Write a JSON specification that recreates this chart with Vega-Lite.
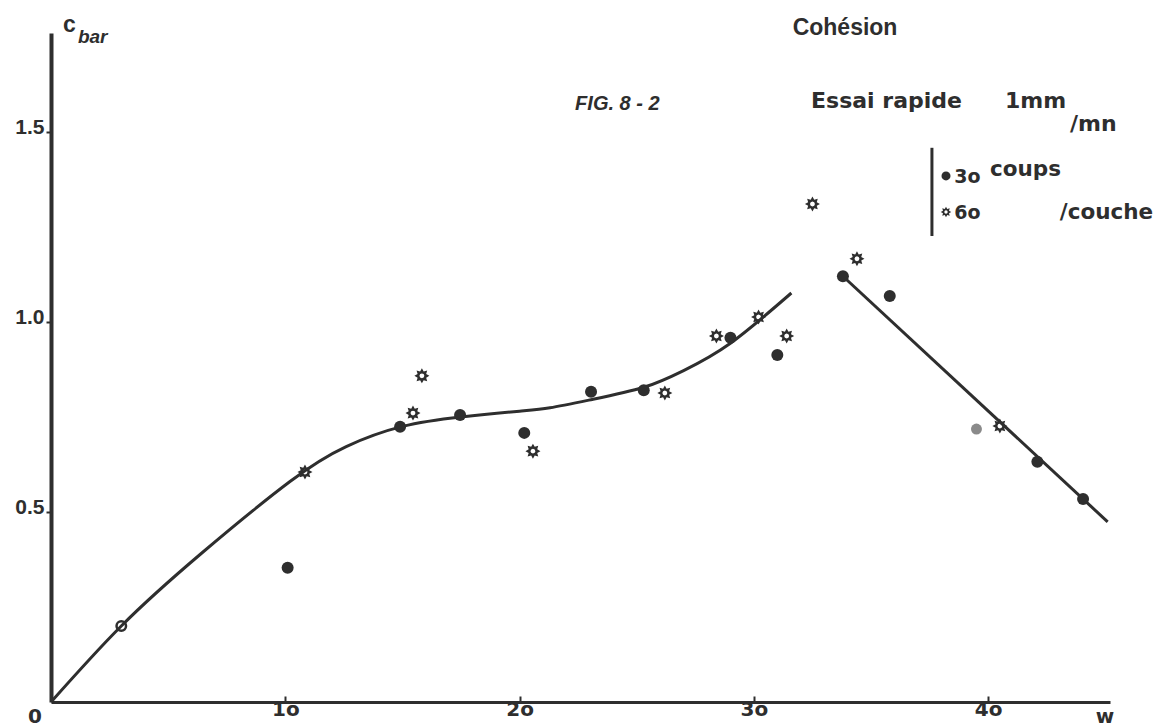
{
  "$schema": "https://vega.github.io/schema/vega-lite/v6.json",
  "width": 1059,
  "height": 669,
  "autosize": {"type": "none"},
  "padding": {"left": 51, "top": 33, "right": 52, "bottom": 26},
  "background": "white",
  "config": {
    "view": {"stroke": null},
    "font": "Liberation Sans",
    "axis": {"grid": false, "title": null, "domainColor": "#2e2e2e", "tickColor": "#2e2e2e", "labelColor": "#2e2e2e", "labelFontWeight": "bold"}
  },
  "datasets": {
    "pts": [
      {"w": 3.0, "c": 0.2, "s": "open"},
      {"w": 10.1, "c": 0.353, "s": "30"},
      {"w": 10.84, "c": 0.605, "s": "60"},
      {"w": 14.9, "c": 0.724, "s": "30"},
      {"w": 15.45, "c": 0.76, "s": "60"},
      {"w": 15.83, "c": 0.858, "s": "60"},
      {"w": 17.46, "c": 0.755, "s": "30"},
      {"w": 20.2, "c": 0.708, "s": "30"},
      {"w": 20.57, "c": 0.66, "s": "60"},
      {"w": 23.05, "c": 0.816, "s": "30"},
      {"w": 25.3, "c": 0.82, "s": "30"},
      {"w": 26.2, "c": 0.813, "s": "60"},
      {"w": 28.4, "c": 0.963, "s": "60"},
      {"w": 29.0, "c": 0.958, "s": "30"},
      {"w": 30.2, "c": 1.013, "s": "60"},
      {"w": 31.0, "c": 0.913, "s": "30"},
      {"w": 31.4, "c": 0.963, "s": "60"},
      {"w": 32.5, "c": 1.31, "s": "60"},
      {"w": 33.8, "c": 1.12, "s": "30"},
      {"w": 34.4, "c": 1.166, "s": "60"},
      {"w": 35.8, "c": 1.068, "s": "30"},
      {"w": 39.5, "c": 0.718, "s": "grey"},
      {"w": 40.5, "c": 0.726, "s": "60"},
      {"w": 42.1, "c": 0.632, "s": "30"},
      {"w": 44.05, "c": 0.534, "s": "30"}
    ],
    "curveL": [
      {"w": 0, "c": 0},
      {"w": 3.0, "c": 0.2},
      {"w": 6.4, "c": 0.39},
      {"w": 10.2, "c": 0.58},
      {"w": 12.6, "c": 0.672},
      {"w": 15.0, "c": 0.725},
      {"w": 17.5, "c": 0.75},
      {"w": 20.0, "c": 0.765},
      {"w": 21.3, "c": 0.774},
      {"w": 23.1, "c": 0.796},
      {"w": 25.3, "c": 0.828},
      {"w": 27.0, "c": 0.872},
      {"w": 29.0, "c": 0.944},
      {"w": 31.6, "c": 1.076}
    ],
    "curveR": [
      {"w": 33.8, "c": 1.12},
      {"w": 45.1, "c": 0.474}
    ]
  },
  "layer": [
    {
      "data": {"name": "curveL"},
      "mark": {"type": "line", "interpolate": "natural", "color": "#2e2e2e", "strokeWidth": 3},
      "encoding": {
        "x": {"field": "w", "type": "quantitative", "scale": {"domain": [0, 45.2], "nice": false},
          "axis": {"values": [10, 20, 30, 40], "labelExpr": "(datum.value/10) + 'o'", "labelFont": "DejaVu Sans", "labelFontSize": 20, "domainWidth": 3, "tickSize": -6, "tickWidth": 2, "labelPadding": 3, "labelFlush": false}},
        "y": {"field": "c", "type": "quantitative", "scale": {"domain": [0, 1.76], "nice": false},
          "axis": {"values": [0.5, 1.0, 1.5], "format": ".1f", "labelFont": "Liberation Sans", "labelFontSize": 21, "domainWidth": 4, "tickSize": 5, "tickWidth": 2, "labelPadding": 2, "labelBaseline": "alphabetic", "labelOffset": 2}}
      }
    },
    {
      "data": {"name": "curveR"},
      "mark": {"type": "line", "color": "#2e2e2e", "strokeWidth": 3},
      "encoding": {"x": {"field": "w", "type": "quantitative"}, "y": {"field": "c", "type": "quantitative"}}
    },
    {
      "data": {"name": "pts"},
      "transform": [{"filter": "datum.s == '30'"}],
      "mark": {"type": "point", "shape": "circle", "filled": true, "color": "#2e2e2e", "size": 144, "opacity": 1},
      "encoding": {"x": {"field": "w", "type": "quantitative"}, "y": {"field": "c", "type": "quantitative"}}
    },
    {
      "data": {"name": "pts"},
      "transform": [{"filter": "datum.s == 'grey'"}],
      "mark": {"type": "point", "shape": "circle", "filled": true, "color": "#8a8a8a", "size": 120, "opacity": 1},
      "encoding": {"x": {"field": "w", "type": "quantitative"}, "y": {"field": "c", "type": "quantitative"}}
    },
    {
      "data": {"name": "pts"},
      "transform": [{"filter": "datum.s == 'open'"}],
      "mark": {"type": "point", "shape": "circle", "filled": false, "color": "#2e2e2e", "strokeWidth": 2.5, "size": 90, "opacity": 1},
      "encoding": {"x": {"field": "w", "type": "quantitative"}, "y": {"field": "c", "type": "quantitative"}}
    },
    {
      "data": {"name": "pts"},
      "transform": [{"filter": "datum.s == '60'"}],
      "mark": {"type": "point", "shape": "M1,0L0.573,0.237L0.707,0.707L0.237,0.573L0,1L-0.237,0.573L-0.707,0.707L-0.573,0.237L-1,0L-0.573,-0.237L-0.707,-0.707L-0.237,-0.573L0,-1L0.237,-0.573L0.707,-0.707L0.573,-0.237ZM0.33,0L0.233,-0.233L0,-0.33L-0.233,-0.233L-0.33,0L-0.233,0.233L0,0.33L0.233,0.233Z", "filled": true, "color": "#2e2e2e", "size": 225, "opacity": 1},
      "encoding": {"x": {"field": "w", "type": "quantitative"}, "y": {"field": "c", "type": "quantitative"}}
    },
    {
      "data": {"values": [{"w": 37.6, "c": 1.458, "c2": 1.226}]},
      "mark": {"type": "rule", "color": "#2e2e2e", "strokeWidth": 3},
      "encoding": {"x": {"field": "w", "type": "quantitative"}, "y": {"field": "c", "type": "quantitative"}, "y2": {"field": "c2"}}
    },
    {
      "data": {"values": [{"w": 38.2, "c": 1.384}]},
      "mark": {"type": "point", "shape": "circle", "filled": true, "color": "#2e2e2e", "size": 81, "opacity": 1},
      "encoding": {"x": {"field": "w", "type": "quantitative"}, "y": {"field": "c", "type": "quantitative"}}
    },
    {
      "data": {"values": [{"w": 38.2, "c": 1.289}]},
      "mark": {"type": "point", "shape": "M1,0L0.573,0.237L0.707,0.707L0.237,0.573L0,1L-0.237,0.573L-0.707,0.707L-0.573,0.237L-1,0L-0.573,-0.237L-0.707,-0.707L-0.237,-0.573L0,-1L0.237,-0.573L0.707,-0.707L0.573,-0.237ZM0.33,0L0.233,-0.233L0,-0.33L-0.233,-0.233L-0.33,0L-0.233,0.233L0,0.33L0.233,0.233Z", "filled": true, "color": "#2e2e2e", "size": 110, "opacity": 1},
      "encoding": {"x": {"field": "w", "type": "quantitative"}, "y": {"field": "c", "type": "quantitative"}}
    },
    {
      "data": {"values": [
        {"w": 32.44, "c": 1.563, "t": "Essai rapide"},
        {"w": 40.72, "c": 1.563, "t": "1mm"},
        {"w": 43.49, "c": 1.503, "t": "/mn"}
      ]},
      "mark": {"type": "text", "align": "left", "baseline": "alphabetic", "font": "DejaVu Sans", "fontWeight": "bold", "fontSize": 22, "color": "#2e2e2e"},
      "encoding": {"x": {"field": "w", "type": "quantitative"}, "y": {"field": "c", "type": "quantitative"}, "text": {"field": "t"}}
    },
    {
      "data": {"values": [{"w": 0.51, "c": 1.763, "t": "c"}]},
      "mark": {"type": "text", "align": "left", "baseline": "alphabetic", "font": "Liberation Sans", "fontWeight": "bold", "fontSize": 23, "color": "#2e2e2e"},
      "encoding": {"x": {"field": "w", "type": "quantitative"}, "y": {"field": "c", "type": "quantitative"}, "text": {"field": "t"}}
    },
    {
      "data": {"values": [{"w": 33.89, "c": 1.755, "t": "Cohésion"}]},
      "mark": {"type": "text", "align": "center", "baseline": "alphabetic", "font": "Liberation Sans", "fontWeight": "bold", "fontSize": 23, "color": "#2e2e2e"},
      "encoding": {"x": {"field": "w", "type": "quantitative"}, "y": {"field": "c", "type": "quantitative"}, "text": {"field": "t"}}
    },
    {
      "data": {"values": [{"w": 1.15, "c": 1.734, "t": "bar"}]},
      "mark": {"type": "text", "align": "left", "baseline": "alphabetic", "font": "Liberation Sans", "fontWeight": "bold", "fontStyle": "italic", "fontSize": 19, "color": "#2e2e2e"},
      "encoding": {"x": {"field": "w", "type": "quantitative"}, "y": {"field": "c", "type": "quantitative"}, "text": {"field": "t"}}
    },
    {
      "data": {"values": [{"w": 22.37, "c": 1.558, "t": "FIG. 8 - 2"}]},
      "mark": {"type": "text", "align": "left", "baseline": "alphabetic", "font": "Liberation Sans", "fontWeight": "bold", "fontStyle": "italic", "fontSize": 20, "color": "#2e2e2e"},
      "encoding": {"x": {"field": "w", "type": "quantitative"}, "y": {"field": "c", "type": "quantitative"}, "text": {"field": "t"}}
    },
    {
      "data": {"values": [
        {"w": 38.55, "c": 1.366, "t": "3o"},
        {"w": 38.55, "c": 1.271, "t": "6o"}
      ]},
      "mark": {"type": "text", "align": "left", "baseline": "alphabetic", "font": "DejaVu Sans", "fontWeight": "bold", "fontSize": 19, "color": "#2e2e2e"},
      "encoding": {"x": {"field": "w", "type": "quantitative"}, "y": {"field": "c", "type": "quantitative"}, "text": {"field": "t"}}
    },
    {
      "data": {"values": [
        {"w": 40.08, "c": 1.384, "t": "coups"},
        {"w": 43.06, "c": 1.271, "t": "/couche"}
      ]},
      "mark": {"type": "text", "align": "left", "baseline": "alphabetic", "font": "DejaVu Sans", "fontWeight": "bold", "fontSize": 21.5, "color": "#2e2e2e"},
      "encoding": {"x": {"field": "w", "type": "quantitative"}, "y": {"field": "c", "type": "quantitative"}, "text": {"field": "t"}}
    },
    {
      "data": {"values": [{"w": -0.68, "c": -0.055, "t": "0"}, {"w": 44.99, "c": -0.055, "t": "w"}]},
      "mark": {"type": "text", "align": "center", "baseline": "alphabetic", "font": "DejaVu Sans", "fontWeight": "bold", "fontSize": 20, "color": "#2e2e2e"},
      "encoding": {"x": {"field": "w", "type": "quantitative"}, "y": {"field": "c", "type": "quantitative"}, "text": {"field": "t"}}
    }
  ]
}
